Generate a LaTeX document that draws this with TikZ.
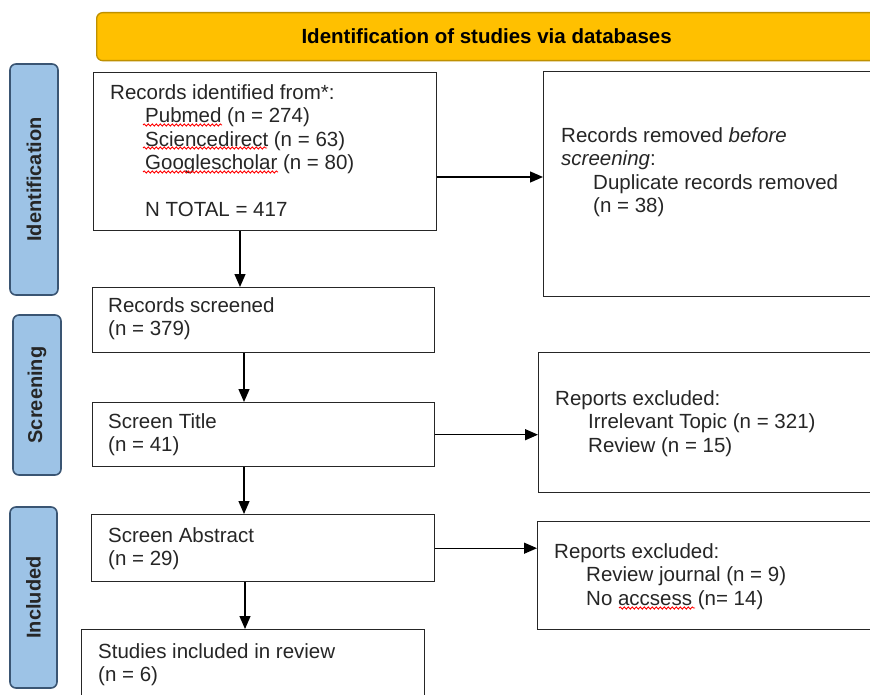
\documentclass[tikz,border=0pt]{standalone}
\usepackage{fontspec}
\setmainfont{Liberation Sans}
\usetikzlibrary{arrows.meta,decorations.pathmorphing,calc}
\definecolor{hdrfill}{HTML}{FFC000}
\definecolor{hdrdraw}{HTML}{BF9000}
\definecolor{sidefill}{HTML}{9DC3E6}
\definecolor{sidedraw}{HTML}{3A5573}
\begin{document}
\begin{tikzpicture}[x=1pt,y=-1pt,
  font=\fontsize{20.5}{23.5}\selectfont,
  box/.style={draw=black!85, line width=1.4pt, anchor=north west, inner sep=0pt},
  txt/.style={anchor=north west, inner sep=0pt, align=left, text=black!85},
  side/.style={draw=sidedraw, fill=sidefill, line width=1.6pt, rounded corners=6pt, rotate=90,
    font=\fontsize{20}{24}\selectfont\bfseries, inner sep=0pt, text=black!85},
  arr/.style={line width=1.3pt, -{Triangle[length=13pt,width=11pt]}},
  squig/.style={red, line width=0.9pt, decorate, decoration={snake, segment length=4pt, amplitude=1.1pt}}
]
\clip (0,0) rectangle (870,695);
\fill[white] (0,0) rectangle (870,695);

% header
\node[draw=hdrdraw, fill=hdrfill, line width=1.3pt, rounded corners=6pt, minimum width=780pt,
  minimum height=48pt, anchor=north west, inner sep=0pt,
  font=\fontsize{20.5}{24}\selectfont\bfseries] (hdr) at (96,12) {Identification of studies via databases};

% side labels
\node[side, minimum width=231pt, minimum height=48pt] (sidA) at (34,179.5) {Identification};
\node[side, minimum width=160pt, minimum height=48pt] (sidB) at (37,395) {Screening};
\node[side, minimum width=181pt, minimum height=47pt] (sidC) at (33.5,597.5) {Included};

% boxes
\node[box, minimum width=343pt, minimum height=158pt] (rid) at (93,72) {};
\node[box, minimum width=340pt, minimum height=225pt] (rem) at (543,71) {};
\node[box, minimum width=342pt, minimum height=65pt] (rs) at (92,287) {};
\node[box, minimum width=342pt, minimum height=64pt] (st) at (92,402) {};
\node[box, minimum width=345pt, minimum height=140pt] (rep1) at (538,352) {};
\node[box, minimum width=343pt, minimum height=67pt] (sa) at (91,514) {};
\node[box, minimum width=345pt, minimum height=108pt] (rep2) at (537,521) {};
\node[box, minimum width=343pt, minimum height=80pt] (si) at (81,629) {};

% texts
\node[txt] (tid) at (110,84) {Records identified from*:\\
  \hspace*{35pt}Pubmed (n = 274)\\
  \hspace*{35pt}Sciencedirect (n = 63)\\
  \hspace*{35pt}Googlescholar (n = 80)\\
  \mbox{}\\
  \hspace*{35pt}N TOTAL = 417};
\node[txt] (trem) at (561,127) {Records removed \textit{before}\\
  \textit{screening}:\\
  \hspace*{32pt}Duplicate records removed\\
  \hspace*{32pt}(n = 38)};
\node[txt] (trs) at (108,297) {Records screened\\(n = 379)};
\node[txt] (tst) at (108,413) {Screen Title\\(n = 41)};
\node[txt] (trep1) at (555,390) {Reports excluded:\\
  \hspace*{33pt}Irrelevant Topic (n = 321)\\
  \hspace*{33pt}Review (n = 15)};
\node[txt] (tsa) at (108,527) {Screen Abstract\\(n = 29)};
\node[txt] (trep2) at (554,543) {Reports excluded:\\
  \hspace*{32pt}Review journal (n = 9)\\
  \hspace*{32pt}No accsess (n= 14)};
\node[txt] (tsi) at (98,643) {Studies included in review\\(n = 6)};

% spell-check squiggles
\draw[squig] (143,125) -- (222,125);
\draw[squig] (143,148) -- (267,148);
\draw[squig] (143,172) -- (278,172);
\draw[squig] (619,608) -- (695,608);

% connectors
\coordinate (v1) at (240,0);
\coordinate (v2) at (244,0);
\coordinate (v3) at (245,0);
\coordinate (h1) at (0,177);
\draw[arr] (v1 |- rid.south) -- (v1 |- rs.north);
\draw[arr] (v2 |- rs.south) -- (v2 |- st.north);
\draw[arr] (v2 |- st.south) -- (v2 |- sa.north);
\draw[arr] (v3 |- sa.south) -- (v3 |- si.north);
\draw[arr] (rid.east |- h1) -- (rem.west |- h1);
\draw[arr] (st.east) -- (st.east -| rep1.west);
\draw[arr] (sa.east) -- (sa.east -| rep2.west);
\end{tikzpicture}
\end{document}
